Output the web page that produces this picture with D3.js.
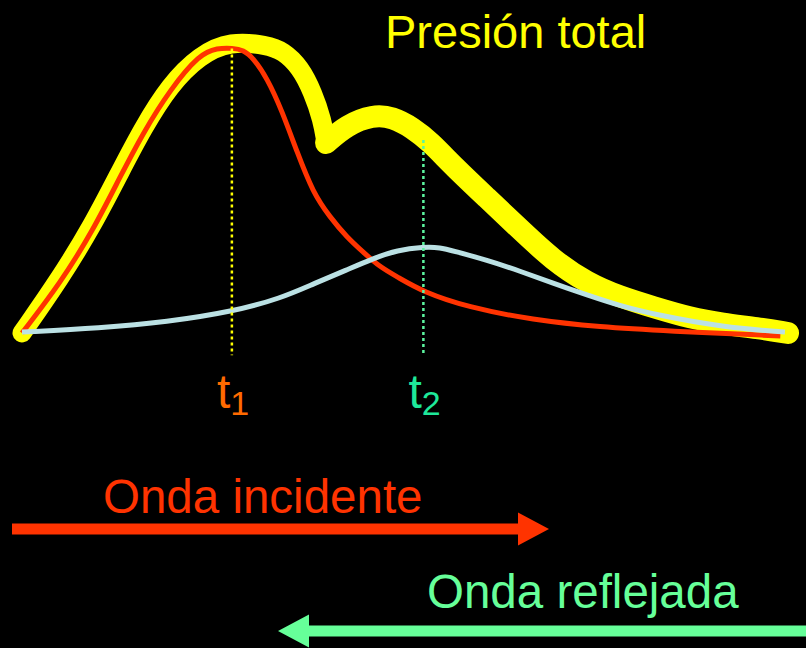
<!DOCTYPE html>
<html>
<head>
<meta charset="utf-8">
<script src="https://cdn.jsdelivr.net/npm/d3@7/dist/d3.min.js"></script>
<style>
  html, body { margin: 0; padding: 0; background: #000; }
  svg { display: block; }
  text { font-family: "Liberation Sans", Arial, Helvetica, sans-serif; }
</style>
</head>
<body>
<svg id="chart" width="806" height="648"></svg>
<script>
// Incident wave (pressure vs time, arbitrary units)
const incidentT = [0, 5.0, 9.3, 12.8, 15.8, 19.3, 23.2, 25.5, 27.5, 28.9, 30.2, 32.0, 33.9, 35.9, 38.0, 40.2, 42.4, 44.5, 46.7, 49.0, 52.4, 58.1, 66.7, 75.5, 84.2, 99.0];
const incidentP = [0, 16.9, 34.9, 52.9, 67.8, 82.4, 94.6, 96.6, 96.6, 95.9, 93.2, 86.4, 75.6, 61.4, 47.5, 39.3, 32.5, 27.5, 22.4, 19.0, 13.9, 8.8, 4.4, 2.0, 0.7, -1.0];

// Reflected wave
const reflectedT = [0, 10.2, 18.9, 27.6, 33.7, 38.0, 42.4, 45.8, 49.0, 52.4, 54.6, 56.3, 60.7, 65.0, 69.3, 73.8, 78.1, 82.9, 91.5, 99.6];
const reflectedP = [0.3, 1.7, 3.7, 7.3, 11.7, 16.6, 21.4, 25.2, 28.1, 29.2, 29.0, 27.8, 24.7, 21.0, 16.9, 12.9, 9.2, 6.1, 2.0, 0.3];

// Total pressure (incident + reflected), with the inflection notch
const totalT = [0, 5.0, 9.3, 12.8, 15.8, 19.3, 23.2, 27.2, 32.0, 34.1, 36.3, 38.0, 39.2, 39.7,
                42.4, 45.8, 48.4, 51.0, 53.3, 56.3, 60.7, 65.0, 69.3, 73.8, 78.1, 82.4, 87.2, 91.5, 96.0, 100];
const totalP = [0, 18.6, 36.9, 54.6, 69.5, 84.1, 94.2, 99.0, 97.6, 95.6, 90.2, 81.4, 72.2, 64.4,
                70.5, 73.9, 73.2, 69.5, 64.8, 56.6, 45.8, 35.2, 24.7, 16.9, 12.2, 8.8, 5.1, 3.1, 1.7, 0];
const notchIndex = 13;

// Time markers
const markerNames = ["1", "2"];
const markerT = [27.4, 52.4];
const markerTop = [96.4, 65.4];
const markerBottom = -7.5;

const COLORS = {
  total: "#ffff00",
  incident: "#ff3300",
  reflected: "#bbe1e4",
  t1: "#ff6a00",
  t2: "#1ee89a",
  incidentText: "#ff3300",
  reflectedText: "#66ff99"
};

const svg = d3.select("#chart");
const x = d3.scaleLinear().domain([0, 100]).range([22, 788]);
const y = d3.scaleLinear().domain([0, 100]).range([333, 38]);

const zip = (ts, ps) => ts.map((t, i) => [t, ps[i]]);
const line = d3.line()
  .x(d => x(d[0]))
  .y(d => y(d[1]))
  .curve(d3.curveBasis);

// Total pressure: thick yellow stroke, split at the notch so the cusp stays sharp
const totalPts = zip(totalT, totalP);
const totalSegments = [totalPts.slice(0, notchIndex + 1), totalPts.slice(notchIndex)];
const totalWidths = [19, 22];
totalSegments.forEach((seg, i) => {
  svg.append("path")
    .attr("d", line(seg))
    .attr("fill", "none")
    .attr("stroke", COLORS.total)
    .attr("stroke-width", totalWidths[i])
    .attr("stroke-linecap", "round")
    .attr("stroke-linejoin", "round");
});

// Incident wave
svg.append("path")
  .attr("d", line(zip(incidentT, incidentP)))
  .attr("fill", "none")
  .attr("stroke", COLORS.incident)
  .attr("stroke-width", 5);

// Reflected wave
svg.append("path")
  .attr("d", line(zip(reflectedT, reflectedP)))
  .attr("fill", "none")
  .attr("stroke", COLORS.reflected)
  .attr("stroke-width", 5);

// Dotted time markers and their labels
const markerColors = [COLORS.total, "#5cf5a0"];
const labelColors = [COLORS.t1, COLORS.t2];
markerT.forEach((t, i) => {
  svg.append("line")
    .attr("x1", x(t)).attr("x2", x(t))
    .attr("y1", y(markerTop[i])).attr("y2", y(markerBottom))
    .attr("stroke", markerColors[i])
    .attr("stroke-width", 2.5)
    .attr("stroke-dasharray", "3,3");

  const label = svg.append("text")
    .attr("x", x(t) - 15)
    .attr("y", 408)
    .attr("fill", labelColors[i])
    .attr("font-size", 48);
  label.append("tspan").text("t");
  label.append("tspan")
    .attr("dy", 7)
    .attr("font-size", 34)
    .text(markerNames[i]);
});

// Title
svg.append("text")
  .attr("x", 385).attr("y", 48)
  .attr("fill", COLORS.total)
  .attr("font-size", 47)
  .text("Presión total");

// Wave direction arrows
function arrow(x0, x1, cy, shaft, headLen, headHalf, color) {
  const dir = Math.sign(x1 - x0);
  const base = x1 - dir * headLen;
  const p = d3.path();
  p.moveTo(x0, cy - shaft / 2);
  p.lineTo(base, cy - shaft / 2);
  p.lineTo(base, cy - headHalf);
  p.lineTo(x1, cy);
  p.lineTo(base, cy + headHalf);
  p.lineTo(base, cy + shaft / 2);
  p.lineTo(x0, cy + shaft / 2);
  p.closePath();
  svg.append("path").attr("d", p.toString()).attr("fill", color);
}

svg.append("text")
  .attr("x", 103).attr("y", 513)
  .attr("fill", COLORS.incidentText)
  .attr("font-size", 47.5)
  .text("Onda incidente");
arrow(12, 549, 529, 11, 31, 16.5, COLORS.incident);

svg.append("text")
  .attr("x", 427).attr("y", 608)
  .attr("fill", COLORS.reflectedText)
  .attr("font-size", 47.5)
  .text("Onda reflejada");
arrow(806, 278, 631, 11, 31, 16.5, COLORS.reflectedText);
</script>
</body>
</html>
